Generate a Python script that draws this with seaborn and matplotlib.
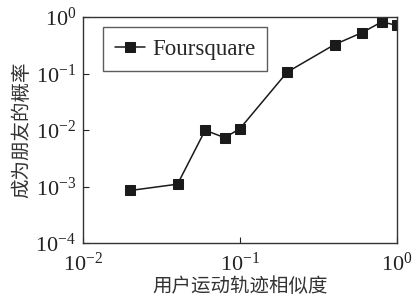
import numpy as np
import pandas as pd
import matplotlib
matplotlib.use('Agg')
import matplotlib.pyplot as plt
import seaborn as sns

# 数据
similarity = [0.02, 0.04, 0.06, 0.08, 0.1, 0.2, 0.4, 0.6, 0.8, 1.0]
prob_friend = [8.5e-4, 1.1e-3, 9.9e-3, 7.3e-3, 1.06e-2, 0.106, 0.325, 0.53, 0.82, 0.71]
series_name = 'Foursquare'
x_label = '用户运动轨迹相似度'
y_label = '成为朋友的概率'

sns.set_theme(style='white')
plt.rcParams['font.family'] = ['Liberation Serif', 'Noto Sans CJK SC']
plt.rcParams['mathtext.fontset'] = 'stix'

df = pd.DataFrame({'x': similarity, 'y': prob_friend, 'name': series_name})

fig = plt.figure(figsize=(4.18, 3.06), dpi=100)
ax = fig.add_axes([83 / 418, 1 - 243 / 306, 314 / 418, 226 / 306])

sns.lineplot(data=df, x='x', y='y', marker='s', color='#1a1a1a', markersize=7,
             markeredgecolor='#1a1a1a', linewidth=1.1, label=series_name, ax=ax)

ax.set_xscale('log')
ax.set_yscale('log')
ax.set_xlim(1e-2, 1)
ax.set_ylim(1e-4, 1)
ax.set_xticks([1e-2, 1e-1, 1])
ax.set_yticks([1e-4, 1e-3, 1e-2, 1e-1, 1])
ax.xaxis.set_minor_locator(matplotlib.ticker.NullLocator())
ax.yaxis.set_minor_locator(matplotlib.ticker.NullLocator())
ax.tick_params(direction='in', length=4, width=0.8, colors='#222222', labelsize=16,
               bottom=True, left=True, top=False, right=False, pad=4)
ax.tick_params(axis='x', pad=7)
ax.tick_params(axis='y', pad=5)
for s in ax.spines.values():
    s.set_color('#333333')
    s.set_linewidth(1.0)

ax.set_xlabel(x_label, fontsize=14, family=['Noto Sans CJK SC'], color='#333333', labelpad=0)
ax.set_ylabel(y_label, fontsize=14, family=['Noto Sans CJK SC'], color='#333333', labelpad=2)

leg = ax.legend(loc='upper left', bbox_to_anchor=(0.065, 0.955), fontsize=16.5, frameon=True,
                fancybox=False, edgecolor='#333333', borderpad=0.5, handlelength=1.3,
                handletextpad=0.35, borderaxespad=0)
leg.get_frame().set_linewidth(1.0)

fig.savefig('out.png', dpi=100)
